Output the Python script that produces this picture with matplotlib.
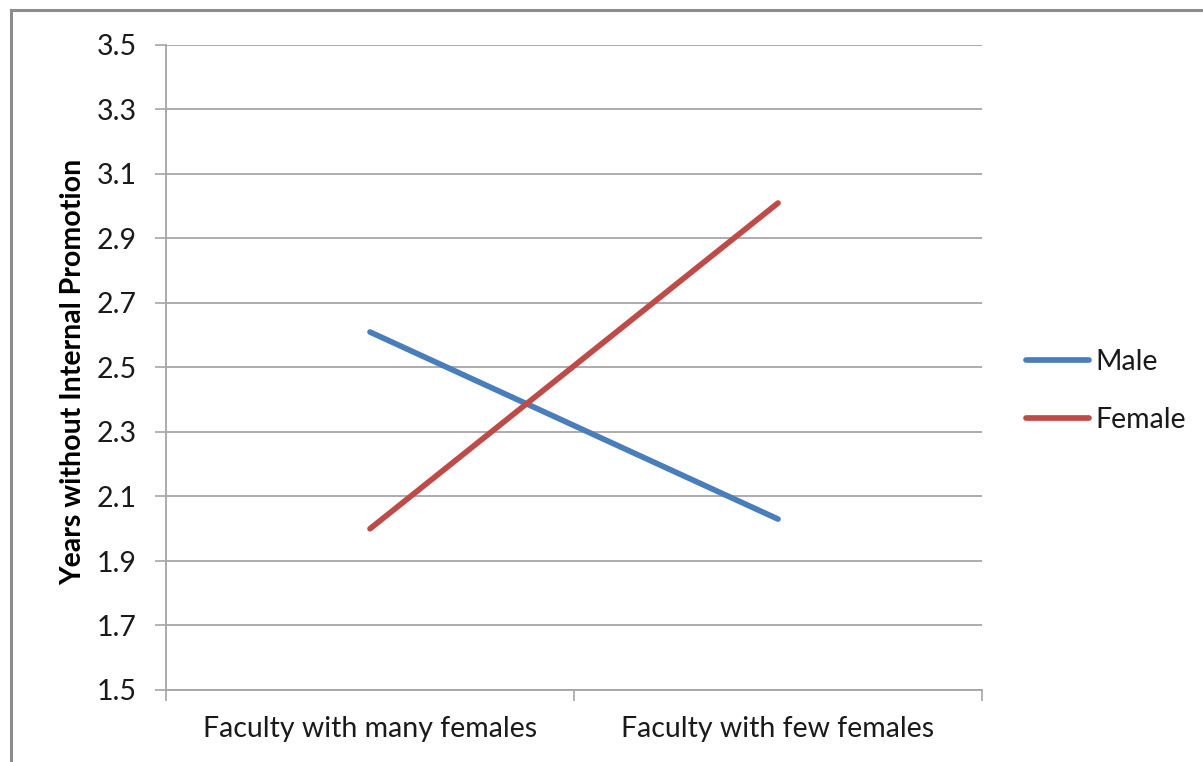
import matplotlib
matplotlib.use("Agg")
import matplotlib.pyplot as plt
from matplotlib.lines import Line2D
import numpy as np

# Data
categories = ["Faculty with many females", "Faculty with few females"]
male = [2.61, 2.03]
female = [2.00, 3.01]
series_names = ["Male", "Female"]
y_ticks = [1.5, 1.7, 1.9, 2.1, 2.3, 2.5, 2.7, 2.9, 3.1, 3.3, 3.5]
y_label = "Years without Internal Promotion"

W, H = 1203, 762
plt.rcParams["font.family"] = ["Lato", "DejaVu Sans"]
FS = 20.5

fig = plt.figure(figsize=(W / 100, H / 100), dpi=100)
fig.patch.set_facecolor("white")

# outer chart frame (top and left edges visible)
fig.add_artist(Line2D([11 / W, 11 / W], [0, 1 - 10 / H], color="#8c8c8c", lw=2.2,
                      transform=fig.transFigure))
fig.add_artist(Line2D([11 / W, 1], [1 - 10 / H, 1 - 10 / H], color="#8c8c8c", lw=2.2,
                      transform=fig.transFigure))

left, right, top, bottom = 166, 982, 45, 690
ax = fig.add_axes([left / W, 1 - bottom / H, (right - left) / W, (bottom - top) / H])

x = np.arange(len(categories)) + 0.5
grid_c = "#a6a6a6"
blue = "#4a7ebb"
red = "#be4b48"

ax.plot(x, male, color=blue, lw=4.1, solid_capstyle="round", label=series_names[0], zorder=3)
ax.plot(x, female, color=red, lw=4.1, solid_capstyle="round", label=series_names[1], zorder=3)

ax.set_xlim(0, len(categories))
ax.set_ylim(y_ticks[0], y_ticks[-1])
ax.set_yticks(y_ticks)
ax.set_yticklabels([f"{v:.1f}" for v in y_ticks])
ax.yaxis.grid(True, color=grid_c, lw=1.3)
ax.set_axisbelow(True)

# category boundaries get tick marks; labels sit in between
ax.set_xticks(np.arange(len(categories) + 1))
ax.set_xticklabels([])
ax.set_xticks(x, minor=True)
ax.set_xticklabels(categories, minor=True)
ax.tick_params(axis="x", which="major", length=8, width=1.2, color=grid_c, direction="out")
ax.tick_params(axis="x", which="minor", length=0, pad=19, labelsize=FS, labelcolor="#1a1a1a")
ax.tick_params(axis="y", length=8, width=1.2, color=grid_c, direction="out",
               pad=13, labelsize=FS, labelcolor="#1a1a1a")

for s in ["top", "right"]:
    ax.spines[s].set_visible(False)
for s in ["left", "bottom"]:
    ax.spines[s].set_color(grid_c)
    ax.spines[s].set_linewidth(1.3)

fig.text(73 / W, 1 - 372 / H, y_label, rotation=90, ha="center", va="center",
         fontsize=FS, fontweight="bold", color="black")

ax.legend(loc="center left", bbox_to_anchor=(1026 / W, 1 - 391 / H),
          bbox_transform=fig.transFigure, frameon=False, fontsize=FS,
          handlelength=2.2, handletextpad=0.22, labelspacing=1.14,
          labelcolor="#1a1a1a", borderaxespad=0, borderpad=0)

fig.savefig("out.png", dpi=100, facecolor="white")
